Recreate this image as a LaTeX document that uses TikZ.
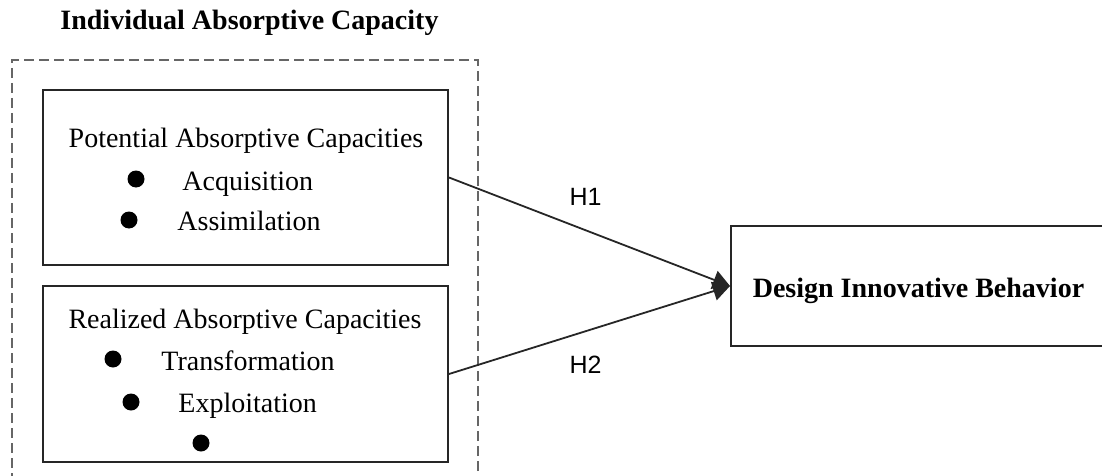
\documentclass[tikz,border=0pt]{standalone}
\usepackage{fontspec}
\setmainfont{Liberation Serif}
\setsansfont{Liberation Sans}
\usetikzlibrary{arrows.meta}

\begin{document}
\begin{tikzpicture}[x=0.5pt,y=-0.5pt]
\useasboundingbox (0,0) rectangle (1102,476);
\tikzstyle{box} = [draw=black!85, line width=1pt, inner sep=0pt, fill=white];
\tikzstyle{group} = [draw=black!60, line width=1.1pt, dash pattern=on 5pt off 2.5pt, inner sep=0pt, minimum width=233pt, minimum height=220pt];
\tikzstyle{txt} = [inner sep=0pt, font=\fontsize{14}{16}\selectfont];
\tikzstyle{item} = [txt, anchor=base west];
\tikzstyle{head} = [txt, anchor=base];
\tikzstyle{dot} = [circle, fill=black, inner sep=0pt, minimum size=8.5pt];
\tikzstyle{hyp} = [font=\sffamily\fontsize{12.5}{15}\selectfont, inner sep=0pt];
\tikzstyle{link} = [draw=black!85, line width=0.9pt, -{Triangle[length=8.5pt,width=9.5pt]}];

\node[group] (iac) at (245,280) {};
\node[head, font=\bfseries\fontsize{14}{16}\selectfont] (iactitle) at (249.5,30) {Individual Absorptive Capacity};

% potential
\node[box, minimum width=202.5pt, minimum height=87.5pt] (pac) at (245.5,177.5) {};
\node[head] (pachead) at (246,148) {Potential Absorptive Capacities};
\node[dot] (d1) at (136,179) {};
\node[item] (acq) at (182,190) {Acquisition};
\node[dot] (d2) at (129,220) {};
\node[item] (ass) at (177,230) {Assimilation};

% realized
\node[box, minimum width=202.5pt, minimum height=88pt] (rac) at (245.5,374) {};
\node[head] (rachead) at (245,328) {Realized Absorptive Capacities};
\node[dot] (d3) at (113,359) {};
\node[item] (tra) at (161,370) {Transformation};
\node[dot] (d4) at (131,402) {};
\node[item] (exp) at (178,412) {Exploitation};
\node[dot] (d5) at (201,443) {};

\node[box, minimum width=187.5pt, minimum height=60pt, text height=11pt, text depth=0pt, font=\bfseries\fontsize{14}{16}\selectfont] (dib) at (918.5,286) {Design Innovative Behavior};

\draw[link] (pac.east) -- (dib.west);
\draw[link] (rac.east) -- (dib.west);
\node[hyp, anchor=base] (h1) at (585.5,205) {H1};
\node[hyp, anchor=base] (h2) at (585.5,373) {H2};
\end{tikzpicture}
\end{document}
